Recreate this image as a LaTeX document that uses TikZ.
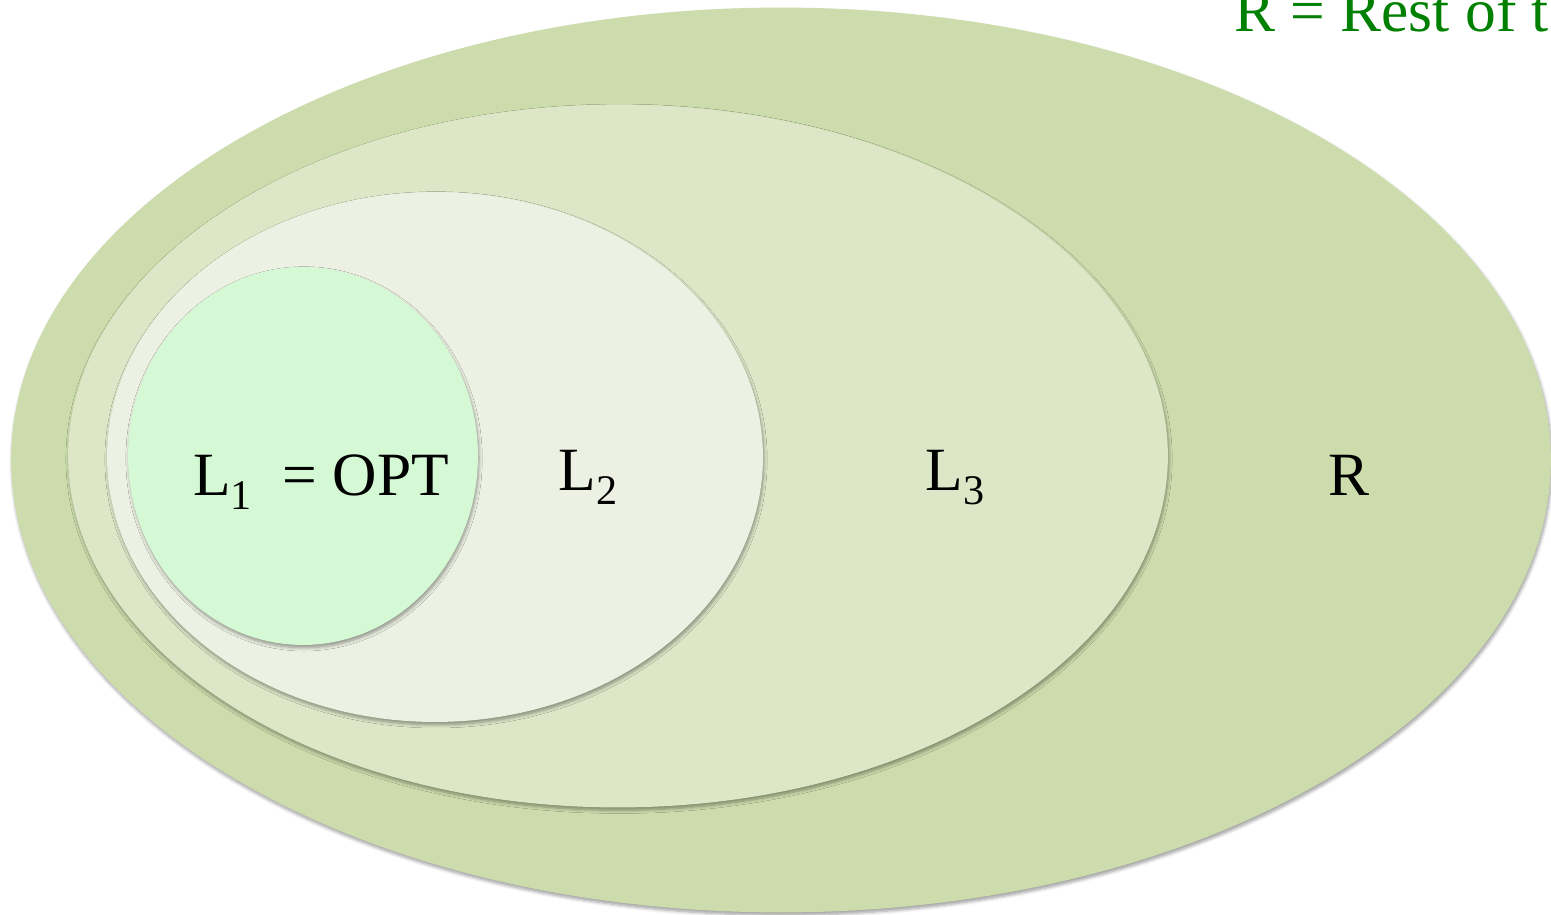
\documentclass[tikz,border=0pt]{standalone}
\usepackage{fontspec}
\setmainfont{Liberation Serif}
\usetikzlibrary{shapes.geometric,shadows.blur}

\definecolor{restgreen}{HTML}{CCDCAC}
\definecolor{lthree}{HTML}{DEE6C8}
\definecolor{ltwo}{HTML}{EDF1E3}
\definecolor{lone}{HTML}{D4F9D4}
\definecolor{labelgreen}{HTML}{008000}

% subscript index of a level
\newcommand{\lvl}[1]{L\raisebox{-0.5ex}{\fontsize{24}{24}\selectfont #1}}

\tikzset{
  region/.style={ellipse,inner sep=0pt,draw=none,
    blur shadow={shadow xshift=0.6pt,shadow yshift=-1.6pt,shadow blur steps=6,shadow opacity=38}},
  lbl/.style={anchor=base,font=\fontsize{35}{40}\selectfont,text=black},
}

\begin{document}
\begin{tikzpicture}[x=0.02cm,y=-0.02cm]
  \useasboundingbox (0,0) rectangle (1551,915);
  % nested levels, pixel units (y grows downwards)
  \node[region,fill=restgreen,minimum width=30.8cm,minimum height=18.1cm] (rest) at (781,460) {};
  \node[region,fill=lthree,minimum width=22cm,minimum height=14.06cm] (L3) at (618,456) {};
  \node[region,fill=ltwo,minimum width=13.12cm,minimum height=10.6cm] (L2) at (435,457) {};
  \node[region,fill=lone,minimum width=7cm,minimum height=7.56cm] (L1) at (303,456) {};
  % labels
  \node[lbl] (optlbl) at (321,495) {\lvl{1}\ \ = OPT};
  \node[lbl] (ltwolbl) at (588,490) {\lvl{2}};
  \node[lbl] (lthreelbl) at (955,490) {\lvl{3}};
  \node[lbl] (restlbl) at (1349,495) {R};
  \node[lbl,anchor=base west,text=labelgreen] (restnote) at (1228,32) {R = Rest of t};
\end{tikzpicture}
\end{document}
